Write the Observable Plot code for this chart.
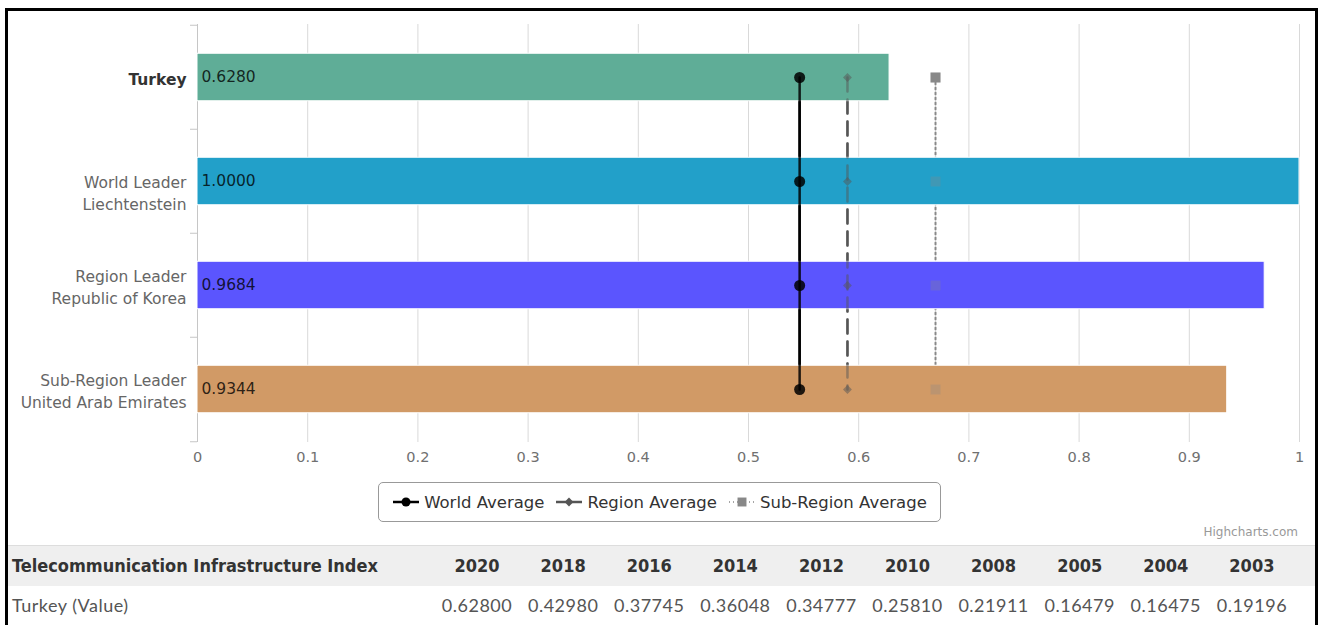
<!DOCTYPE html>
<html><head><meta charset="utf-8">
<script src="https://cdn.jsdelivr.net/npm/d3@7"></script>
<script src="https://cdn.jsdelivr.net/npm/@observablehq/plot@0.6"></script>
<style>
html,body{margin:0;padding:0;background:#fff;}
body{width:1322px;height:625px;overflow:hidden;position:relative;font-family:"DejaVu Sans",sans-serif;}
#chart{position:absolute;left:0;top:0;}
#frame{position:absolute;left:5px;top:8px;width:1307px;height:700px;border:3.5px solid #000;pointer-events:none;}
#legend{position:absolute;left:378px;top:482px;width:561px;height:38px;border:1px solid #999;border-radius:5px;display:flex;align-items:center;justify-content:center;gap:11px;font-size:16.5px;color:#333;box-sizing:content-box;}
.item{display:flex;align-items:center;gap:4px;}
.item svg{display:block;}
#credit{position:absolute;right:24px;top:525px;font-size:12px;color:#999;}
#tbl{position:absolute;left:8px;top:545px;border-collapse:collapse;table-layout:fixed;}
#tbl td{padding:0;text-align:center;white-space:nowrap;}
#tbl tr.head{background:#efefef;border-top:1px solid #ddd;height:40px;}
#tbl tr.head td{font-family:"Liberation Sans Narrow","Arial Narrow","DejaVu Sans Condensed",sans-serif;font-weight:bold;font-size:18px;color:#333;}
#tbl tr.vals{height:38px;}
#tbl tr.vals td{font-family:Lato,"DejaVu Sans",sans-serif;font-weight:400;font-size:18px;color:#555;letter-spacing:0.5px;}
#tbl td.first{text-align:left;padding-left:4px;}
</style></head>
<body>
<div id="chart"></div>
<div id="legend"></div>
<div id="credit">Highcharts.com</div>
<table id="tbl"></table>
<div id="frame"></div>
<script>
// ---- data ----
const categories = ["Turkey", "World Leader", "Region Leader", "Sub-Region Leader"];
const countries = ["", "Liechtenstein", "Republic of Korea", "United Arab Emirates"];
const values = [0.6280, 1.0000, 0.9684, 0.9344];
const barColors = ["#5fad97", "#22a0c9", "#5b55fe", "#d19a66"];
const seriesNames = ["World Average", "Region Average", "Sub-Region Average"];
const worldAverage = [0.5464, 0.5464, 0.5464, 0.5464];
const regionAverage = [0.5898, 0.5898, 0.5898, 0.5898];
const subRegionAverage = [0.6697, 0.6697, 0.6697, 0.6697];
const xTicks = [0, 0.1, 0.2, 0.3, 0.4, 0.5, 0.6, 0.7, 0.8, 0.9, 1];
const tableTitle = "Telecommunication Infrastructure Index";
const rowLabel = "Turkey (Value)";
const years = ["2020", "2018", "2016", "2014", "2012", "2010", "2008", "2005", "2004", "2003"];
const tiiValues = ["0.62800", "0.42980", "0.37745", "0.36048", "0.34777", "0.25810", "0.21911", "0.16479", "0.16475", "0.19196"];

const rows = categories.map((c, i) => ({
  cat: c,
  label: countries[i] ? c + "\n" + countries[i] : c,
  value: values[i],
  color: barColors[i],
  world: worldAverage[i],
  region: regionAverage[i],
  sub: subRegionAverage[i]
}));

const W = 1322, H = 470, mL = 197, mR = 23, mT = 24, mB = 28;
const band = (H - mT - mB) / categories.length;
const barH = 48;
const inset = (band - barH) / 2;
const tickLen = 7 / (W - mL - mR);

function seriesMarks(op) {
  const m = [];
  if (op.subLine) m.push(Plot.line(rows, {x: "sub", y: "cat", stroke: "#888", strokeWidth: 2, strokeDasharray: "2,3", strokeOpacity: op.subLine}));
  m.push(Plot.dot(rows, {x: "sub", y: "cat", symbol: "square", r: 5.6, fill: "#888", fillOpacity: op.sub, stroke: null}));
  m.push(Plot.line(rows, {x: "region", y: "cat", stroke: "#555", strokeWidth: 2.5, strokeDasharray: "14,8", strokeOpacity: op.region}));
  m.push(Plot.dot(rows, {x: "region", y: "cat", symbol: "diamond2", r: 4, fill: "#555", fillOpacity: op.region, stroke: null}));
  m.push(Plot.line(rows, {x: "world", y: "cat", stroke: "#000", strokeWidth: 2.5, strokeOpacity: op.world}));
  m.push(Plot.dot(rows, {x: "world", y: "cat", symbol: "circle", r: 5.5, fill: "#000", fillOpacity: op.world, stroke: null}));
  return m;
}

const labelBase = {y: "cat", text: "label", frameAnchor: "left", dx: -11, textAnchor: "end", fontSize: 15.5, lineHeight: 1.42};

const chart = Plot.plot({
  width: W, height: H,
  marginLeft: mL, marginRight: mR, marginTop: mT, marginBottom: mB,
  style: {fontFamily: "DejaVu Sans, sans-serif", fontSize: "14px", background: "transparent", overflow: "visible"},
  x: {domain: [0, 1], axis: null},
  y: {domain: categories, padding: 0, axis: null},
  color: {type: "identity"},
  marks: [
    Plot.gridX(xTicks.filter(d => d > 0), {stroke: "#d9d9d9", strokeOpacity: 1}),
    Plot.ruleX([0], {stroke: "#c6c6c6"}),
    Plot.ruleY(categories, {y: d => d, x1: -tickLen, x2: 0, dy: -band / 2, stroke: "#c6c6c6"}),
    Plot.ruleY(categories.slice(-1), {y: d => d, x1: -tickLen, x2: 0, dy: band / 2, stroke: "#c6c6c6"}),
    Plot.text(xTicks, {x: d => d, frameAnchor: "bottom", dy: 19, fontSize: 14.5, fill: "#707070", text: d => String(Math.round(d * 10) / 10)}),
    ...seriesMarks({subLine: 1, sub: 1, region: 1, world: 1}),
    Plot.barX(rows, {x: "value", y: "cat", fill: "color", insetTop: inset, insetBottom: inset, stroke: "#fff", strokeWidth: 1}),
    ...seriesMarks({subLine: 0, sub: 0.3, region: 0.5, world: 0.85}),
    Plot.text(rows, {x: 0, y: "cat", text: d => d.value.toFixed(4), textAnchor: "start", dx: 4, fontSize: 15.5, fill: "#000", fillOpacity: 0.8}),
    Plot.text(rows.filter(d => d.cat === "Turkey"), {...labelBase, fill: "#333", fontWeight: "bold"}),
    Plot.text(rows.filter(d => d.cat === "World Leader"), {...labelBase, fill: "#666", dy: 10}),
    Plot.text(rows.filter(d => d.cat !== "Turkey" && d.cat !== "World Leader"), {...labelBase, fill: "#666"})
  ]
});
document.getElementById("chart").appendChild(chart);

// ---- legend ----
const legendStyles = [
  {stroke: "#000", dash: null, width: 2.5, symbol: d3.symbolCircle, size: 64, fill: "#000"},
  {stroke: "#555", dash: null, width: 2.5, symbol: d3.symbolDiamond2, size: 50, fill: "#555"},
  {stroke: "#888", dash: "1,3", width: 1.5, symbol: d3.symbolSquare, size: 80, fill: "#888"}
];
const legend = d3.select("#legend");
seriesNames.forEach((name, i) => {
  const s = legendStyles[i];
  const item = legend.append("div").attr("class", "item");
  const svg = item.append("svg").attr("width", 28).attr("height", 14);
  svg.append("line").attr("x1", 1).attr("x2", 27).attr("y1", 7).attr("y2", 7)
    .attr("stroke", s.stroke).attr("stroke-width", s.width).attr("stroke-dasharray", s.dash);
  svg.append("path").attr("transform", "translate(14,7)").attr("d", d3.symbol(s.symbol, s.size)()).attr("fill", s.fill);
  item.append("span").text(name);
});

// ---- table ----
const tbl = d3.select("#tbl");
const cg = tbl.append("colgroup");
cg.append("col").style("width", "426px");
years.forEach(() => cg.append("col").style("width", "86.1px"));
cg.append("col").style("width", "20px");
const h = tbl.append("tr").attr("class", "head");
h.append("td").attr("class", "first").text(tableTitle);
years.forEach(y => h.append("td").text(y));
h.append("td");
const v = tbl.append("tr").attr("class", "vals");
v.append("td").attr("class", "first").text(rowLabel);
tiiValues.forEach(x => v.append("td").text(x));
v.append("td");
</script>
</body></html>
